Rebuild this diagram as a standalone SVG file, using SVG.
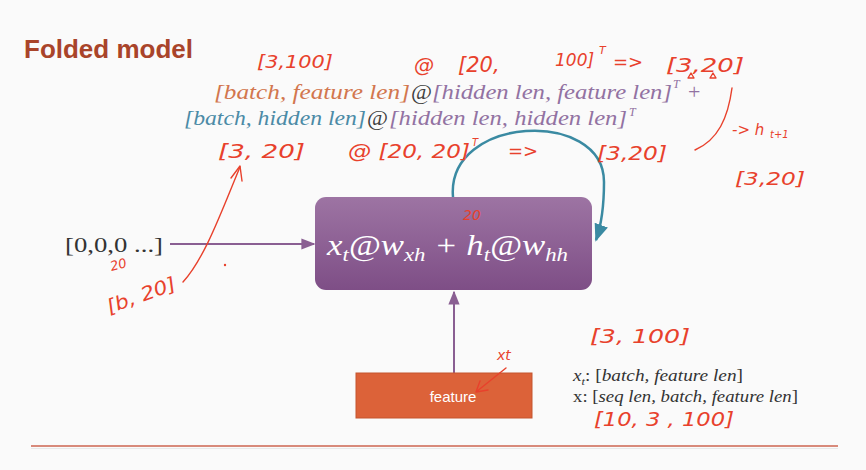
<svg xmlns="http://www.w3.org/2000/svg" width="866" height="470" viewBox="0 0 866 470">
<defs>
<linearGradient id="boxg" x1="0" y1="0" x2="0" y2="1">
<stop offset="0" stop-color="#9d74a3"/>
<stop offset="1" stop-color="#7e4e86"/>
</linearGradient>
<marker id="ap" viewBox="0 0 10 10" refX="9" refY="5" markerWidth="7" markerHeight="7" orient="auto-start-reverse">
<path d="M0,1 L10,5 L0,9 z" fill="#8a5f92"/>
</marker>
<marker id="at" viewBox="0 0 10 10" refX="9" refY="5" markerWidth="7" markerHeight="7" orient="auto">
<path d="M0,1 L10,5 L0,9 z" fill="#3a8aa2"/>
</marker>
<style>
.f{font-family:"Liberation Serif","DejaVu Serif",serif;font-style:italic}
.u{font-family:"Liberation Serif","DejaVu Serif",serif}
.o{fill:#d2764e}.p{fill:#9272a2}.b{fill:#4b8aa6}.k{fill:#404040}
.hw{font-family:"DejaVu Sans","Liberation Sans",sans-serif;fill:#e8412c;font-style:italic}
.hs{fill:none;stroke:#e8412c;stroke-width:1.4;stroke-linecap:round;stroke-linejoin:round}
</style>
</defs>
<rect width="866" height="470" fill="#fafafa"/>

<text x="24" y="58" font-family="Liberation Sans,Arial,sans-serif" font-weight="bold" font-size="26" fill="#a9442a">Folded model</text>

<g id="formula" font-size="22">
<text class="f o" x="214" y="99" textLength="196" lengthAdjust="spacingAndGlyphs">[batch, feature len]</text>
<text class="u k" x="411" y="99" textLength="21" lengthAdjust="spacingAndGlyphs">@</text>
<text class="f p" x="432" y="99" textLength="240" lengthAdjust="spacingAndGlyphs">[hidden len, feature len]</text>
<text class="f p" x="673" y="88" font-size="12">T</text>
<text class="u p" x="688" y="99">+</text>
<text class="f b" x="184" y="125" textLength="182" lengthAdjust="spacingAndGlyphs">[batch, hidden len]</text>
<text class="u k" x="367" y="125" textLength="21" lengthAdjust="spacingAndGlyphs">@</text>
<text class="f p" x="389" y="125" textLength="238" lengthAdjust="spacingAndGlyphs">[hidden len, hidden len]</text>
<text class="f p" x="629" y="116" font-size="12">T</text>
</g>

<g id="connectors">
<line x1="170" y1="244" x2="314" y2="244" stroke="#8a5f92" stroke-width="2" marker-end="url(#ap)"/>
<line x1="454" y1="373" x2="454" y2="292" stroke="#8a5f92" stroke-width="2" marker-end="url(#ap)"/>
<path d="M453,197 C446,115 604,108 604,182 C604,208 601,226 596,240" fill="none" stroke="#3a8aa2" stroke-width="2.5" marker-end="url(#at)"/>
</g>

<g id="input">
<text class="u" x="65" y="252" font-size="22" fill="#333" textLength="98" lengthAdjust="spacingAndGlyphs">[0,0,0 ...]</text>
</g>

<g id="cell">
<rect x="315" y="197" width="277" height="93" rx="11" fill="url(#boxg)"/>
<text class="f" x="327" y="255" font-size="29" fill="#ffffff" textLength="241" lengthAdjust="spacingAndGlyphs">x<tspan font-size="19" dy="6">t</tspan><tspan class="u" dy="-6">@</tspan>w<tspan font-size="19" dy="6">xh</tspan><tspan class="u" dy="-6"> + </tspan>h<tspan font-size="19" dy="6">t</tspan><tspan class="u" dy="-6">@</tspan>w<tspan font-size="19" dy="6">hh</tspan></text>
</g>

<g id="feature">
<rect x="356" y="373" width="176" height="45" fill="#dc6239" stroke="#c4552f" stroke-width="1"/>
<text x="453" y="402" text-anchor="middle" font-family="Liberation Sans,Arial,sans-serif" font-size="15" fill="#ffffff">feature</text>
</g>

<g id="shapes" font-size="17">
<text class="u" x="573" y="381" fill="#333" textLength="170" lengthAdjust="spacingAndGlyphs"><tspan class="f">x</tspan><tspan class="f" font-size="11" dy="4">t</tspan><tspan dy="-4">: [</tspan><tspan class="f">batch, feature len</tspan>]</text>
<text class="u" x="573" y="402" fill="#333" textLength="225" lengthAdjust="spacingAndGlyphs">x: [<tspan class="f">seq len, batch, feature len</tspan>]</text>
</g>

<g id="footer">
<line x1="31" y1="446" x2="838" y2="446" stroke="#cc6450" stroke-width="1.5"/>
<line x1="31" y1="448.5" x2="838" y2="448.5" stroke="#e8e8e8" stroke-width="1"/>
</g>

<g id="annotations">
<text class="hw" x="257" y="68" font-size="17" textLength="76" lengthAdjust="spacingAndGlyphs">[3,100]</text>
<text class="hw" x="414" y="72" font-size="20">@</text>
<text class="hw" x="458" y="72" font-size="21">[20,</text>
<text class="hw" x="555" y="66" font-size="17">100]</text>
<text class="hw" x="599" y="54" font-size="11">T</text>
<text class="hw" x="613" y="68" font-size="18">=&gt;</text>
<text class="hw" x="666" y="72" font-size="20" textLength="78" lengthAdjust="spacingAndGlyphs">[3,20]</text>
<path class="hs" d="M688,78 L691,73 L694,78 Z M710,78 L713,73 L716,78 Z" stroke-width="1"/>
<path class="hs" d="M732,88 C728,118 718,140 695,150"/>
<text class="hw" x="732" y="135" font-size="15">-&gt; h</text>
<text class="hw" x="770" y="138" font-size="10">t+1</text>
<text class="hw" x="735" y="185" font-size="17" textLength="70" lengthAdjust="spacingAndGlyphs">[3,20]</text>
<text class="hw" x="218" y="158" font-size="20" textLength="87" lengthAdjust="spacingAndGlyphs">[3,  20]</text>
<text class="hw" x="348" y="158" font-size="19" textLength="122" lengthAdjust="spacingAndGlyphs">@ [20, 20]</text>
<text class="hw" x="472" y="146" font-size="10">T</text>
<text class="hw" x="508" y="157" font-size="18">=&gt;</text>
<text class="hw" x="597" y="160" font-size="19" textLength="70" lengthAdjust="spacingAndGlyphs">[3,20]</text>
<text class="hw" x="463" y="220" font-size="14">20</text>
<text class="hw" x="110" y="270" font-size="13" transform="rotate(-15 115 265)">20</text>
<text class="hw" x="104" y="302" font-size="19" textLength="72" lengthAdjust="spacingAndGlyphs" transform="rotate(-20 140 292)">[b, 20]</text>
<path class="hs" d="M183,282 C205,258 222,210 240,167"/>
<path class="hs" d="M231,178 L240,166 L242,181"/>
<circle cx="225" cy="265" r="1.2" fill="#e8412c"/>
<text class="hw" x="590" y="343" font-size="20" textLength="100" lengthAdjust="spacingAndGlyphs">[3, 100]</text>
<text class="hw" x="497" y="360" font-size="14">xt</text>
<path class="hs" d="M506,368 L476,392 M476,392 L488,390 M476,392 L480,381"/>
<text class="hw" x="594" y="426" font-size="20" textLength="140" lengthAdjust="spacingAndGlyphs">[10,  3 ,  100]</text>
</g>
</svg>
